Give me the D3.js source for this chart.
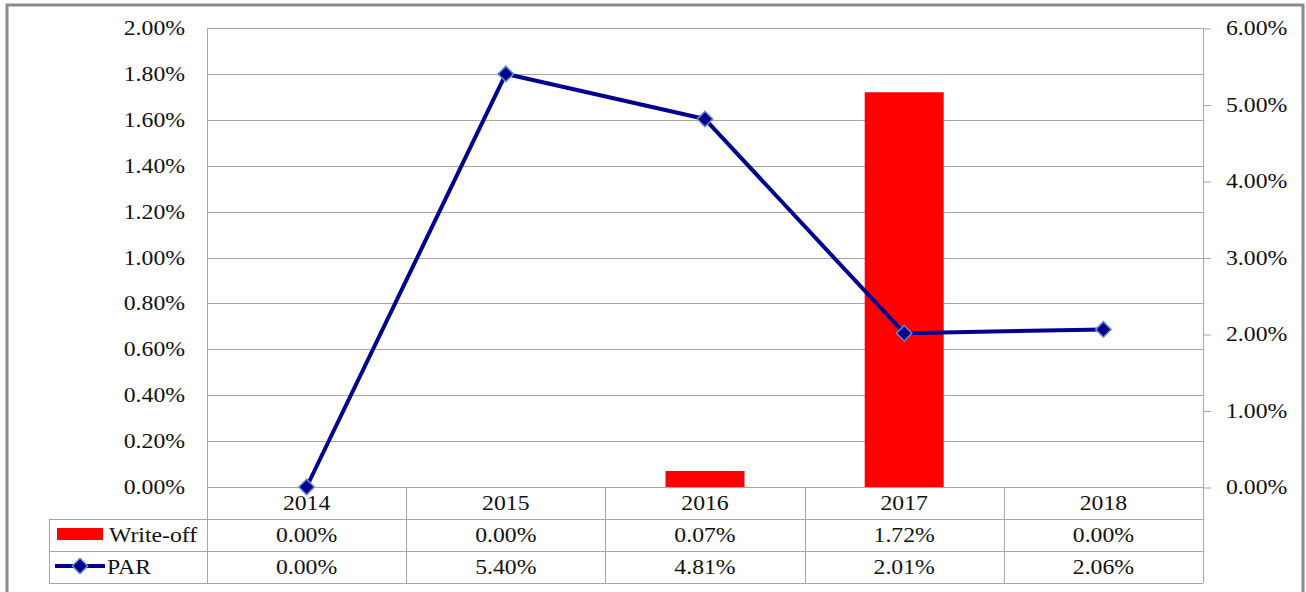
<!DOCTYPE html>
<html><head><meta charset="utf-8">
<script src="https://cdn.jsdelivr.net/npm/d3@7"></script>
<style>body{margin:0;background:#fff}</style>
</head><body>
<svg id="c" width="1306" height="592"></svg>
<script>
const years = ["2014","2015","2016","2017","2018"];
const writeOff = [0.0000, 0.0000, 0.0007, 0.0172, 0.0000];
const par = [0.0000, 0.0540, 0.0481, 0.0201, 0.0206];
const writeOffLabels = ["0.00%","0.00%","0.07%","1.72%","0.00%"];
const parLabels = ["0.00%","5.40%","4.81%","2.01%","2.06%"];
const leftTicks = [0,0.002,0.004,0.006,0.008,0.010,0.012,0.014,0.016,0.018,0.020];
const rightTicks = [0,0.01,0.02,0.03,0.04,0.05,0.06];

const svg = d3.select("#c");
const L=207, R=1203, T=28, B=487;
const rowH = 32, tableLeft = 49;
const x = d3.scaleBand().domain(years).range([L,R]);
const yL = d3.scaleLinear().domain([0,0.02]).range([B,T]);
const yR = d3.scaleLinear().domain([0,0.06]).range([B,T]);
const grid = "#a6a6a6";
const SX = 1.13;

function txt(xp, yp, s, anchor){
  svg.append("text")
    .attr("transform",`translate(${xp},${yp}) scale(${SX},1)`)
    .attr("text-anchor",anchor||"middle")
    .attr("dominant-baseline","central")
    .attr("font-size",21).attr("fill","#111")
    .style("font-family","'Liberation Serif'")
    .text(s);
}

// outer border
svg.append("rect").attr("x",7).attr("y",5).attr("width",1296).attr("height",600)
  .attr("fill","none").attr("stroke","#8c8c8c").attr("stroke-width",3);

// gridlines
svg.selectAll("line.g").data(leftTicks).join("line")
  .attr("x1",L).attr("x2",R).attr("y1",d=>Math.round(yL(d))+0.5).attr("y2",d=>Math.round(yL(d))+0.5)
  .attr("stroke",grid).attr("stroke-width",1);

const fmt = d3.format(".2%");
// left axis labels
leftTicks.forEach(t=>txt(185, yL(t), fmt(t), "end"));

// right axis ticks
const gR = svg.append("g").attr("transform",`translate(${R},0)`)
  .call(d3.axisRight(yR).tickValues(rightTicks).tickFormat(fmt).tickSize(8));
gR.select(".domain").remove();
gR.selectAll("line").attr("stroke",grid).attr("transform","translate(0,0.5)");
gR.selectAll("text").remove();
rightTicks.forEach(t=>txt(1226, yR(t), fmt(t), "start"));

// bars
const bw = 79;
svg.selectAll("rect.bar").data(years).join("rect")
  .attr("x",(d)=>x(d)+x.bandwidth()/2-bw/2)
  .attr("width",bw)
  .attr("y",(d,i)=>yL(writeOff[i]))
  .attr("height",(d,i)=>B-yL(writeOff[i]))
  .attr("fill","#ff0000");

// table lines
const rows = [B+rowH, B+2*rowH, B+3*rowH];
rows.forEach(yy=>{
  svg.append("line").attr("x1",tableLeft).attr("x2",R).attr("y1",yy+0.5).attr("y2",yy+0.5).attr("stroke",grid);
});
svg.append("line").attr("x1",tableLeft+0.5).attr("x2",tableLeft+0.5).attr("y1",B+rowH).attr("y2",B+3*rowH).attr("stroke",grid);
svg.append("line").attr("x1",L+0.5).attr("x2",L+0.5).attr("y1",T).attr("y2",B+3*rowH).attr("stroke",grid);
svg.append("line").attr("x1",R+0.5).attr("x2",R+0.5).attr("y1",T).attr("y2",B+3*rowH).attr("stroke",grid);
years.slice(1).forEach(yv=>{
  const xx = Math.round(x(yv))+0.5;
  svg.append("line").attr("x1",xx).attr("x2",xx).attr("y1",B).attr("y2",B+3*rowH).attr("stroke",grid);
});

// line
const line = d3.line().x((d,i)=>x(years[i])+x.bandwidth()/2).y(d=>yR(d));
svg.append("path").datum(par).attr("d",line).attr("fill","none")
  .attr("stroke","#000090").attr("stroke-width",4).attr("stroke-linejoin","round");
const diamond = d3.symbol().type(d3.symbolSquare).size(120);
svg.selectAll("path.m").data(par).join("path")
  .attr("d",diamond)
  .attr("transform",(d,i)=>`translate(${x(years[i])+x.bandwidth()/2},${yR(d)}) rotate(45)`)
  .attr("fill","#00008b").attr("stroke","#5f8fd0").attr("stroke-width",1.5);

// category labels
years.forEach(yv=>txt(x(yv)+x.bandwidth()/2, B+rowH/2, yv));
// table values
writeOffLabels.forEach((s,i)=>txt(x(years[i])+x.bandwidth()/2, B+rowH*1.5, s));
parLabels.forEach((s,i)=>txt(x(years[i])+x.bandwidth()/2, B+rowH*2.5, s));

// legend keys
svg.append("rect").attr("x",57).attr("y",528).attr("width",46).attr("height",12).attr("fill","#ff0000");
txt(109, B+rowH*1.5, "Write-off", "start");
svg.append("line").attr("x1",55).attr("x2",105).attr("y1",566).attr("y2",566).attr("stroke","#000090").attr("stroke-width",4);
svg.append("path").attr("d",diamond).attr("transform","translate(80,566) rotate(45)")
  .attr("fill","#00008b").attr("stroke","#5f8fd0").attr("stroke-width",1.5);
txt(107, B+rowH*2.5, "PAR", "start");
</script>
</body></html>
